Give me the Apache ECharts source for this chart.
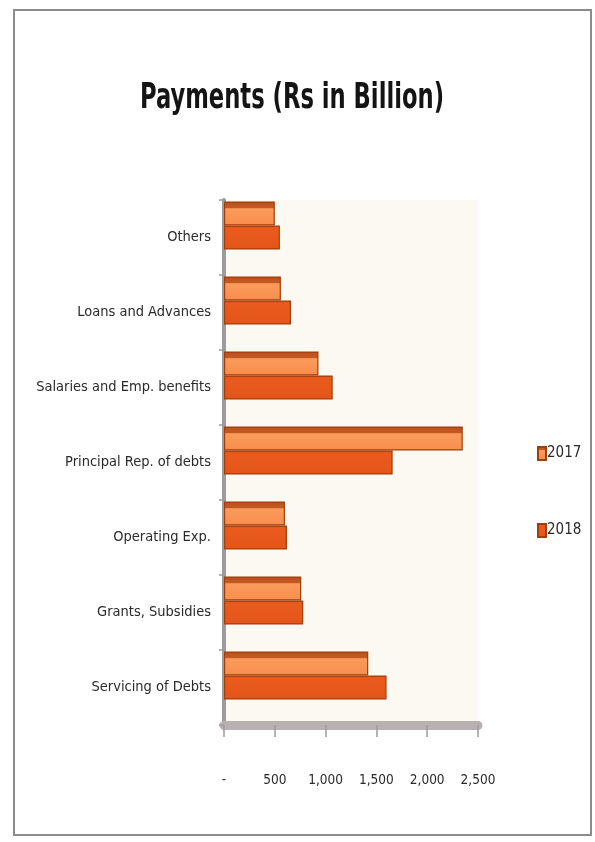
<!DOCTYPE html>
<html>
<head>
<meta charset="utf-8">
<title>Payments (Rs in Billion)</title>
<script src="https://cdn.jsdelivr.net/npm/echarts@6/dist/echarts.min.js"></script>
<style>
  html, body { margin: 0; padding: 0; background: #ffffff; }
  #chart { width: 595px; height: 842px; }
</style>
</head>
<body>
<div id="chart"></div>
<script>
// Payment heads, listed top to bottom
const categories = [
  'Others',
  'Loans and Advances',
  'Salaries and Emp. benefits',
  'Principal Rep. of debts',
  'Operating Exp.',
  'Grants, Subsidies',
  'Servicing of Debts'
];

// Rs in billion
const values2017 = [500, 560, 930, 2350, 600, 760, 1420];
const values2018 = [550, 660, 1070, 1660, 620, 780, 1600];

const seriesNames = ['2017', '2018'];
const titleText = 'Payments (Rs in Billion)';

const FONT = '"DejaVu Sans Condensed", "Liberation Sans Narrow", "Roboto", sans-serif';

const chart = echarts.init(document.getElementById('chart'), null, { renderer: 'canvas' });

// 2017 bars: dark top face over a light front face
const fill2017 = new echarts.graphic.LinearGradient(0, 0, 0, 1, [
  { offset: 0, color: '#b9501d' },
  { offset: 0.26, color: '#c45a22' },
  { offset: 0.3, color: '#fa9b5c' },
  { offset: 1, color: '#f88d4c' }
]);
const fill2018 = new echarts.graphic.LinearGradient(0, 0, 0, 1, [
  { offset: 0, color: '#cf4e16' },
  { offset: 0.1, color: '#e95b1d' },
  { offset: 1, color: '#e4551a' }
]);

chart.setOption({
  backgroundColor: '#ffffff',
  animation: false,
  legend: {
    orient: 'vertical',
    left: 532,
    top: 441,
    itemGap: 62,
    itemWidth: 8,
    itemHeight: 13,
    icon: 'rect',
    data: seriesNames,
    textStyle: { fontFamily: FONT, fontSize: 15, color: '#2a2a2a', padding: [0, 0, 0, -4] }
  },
  grid: {
    left: 224,
    right: 117,
    top: 200,
    bottom: 117,
    show: true,
    backgroundColor: '#fcf9f3',
    borderWidth: 0
  },
  xAxis: {
    type: 'value',
    min: 0,
    max: 2500,
    interval: 500,
    splitLine: { show: false },
    axisLine: { show: true, lineStyle: { color: '#b8b1b1', width: 9 } },
    axisTick: { show: true, length: 12, lineStyle: { color: '#9a9a9a', width: 1.5 } },
    axisLabel: {
      margin: 48,
      fontFamily: FONT,
      fontSize: 13.5,
      color: '#2a2a2a',
      formatter: function (v) {
        return v === 0 ? '-' : v.toLocaleString('en-US');
      }
    }
  },
  yAxis: {
    type: 'category',
    data: categories,
    inverse: true,
    axisLine: { show: true, lineStyle: { color: '#9c9c9c', width: 4 } },
    axisTick: { show: true, length: 5, lineStyle: { color: '#9c9c9c', width: 1.5 } },
    axisLabel: {
      margin: 13,
      fontFamily: FONT,
      fontSize: 14.5,
      color: '#2a2a2a',
      padding: [10, 0, 0, 0]
    }
  },
  series: [
    {
      name: seriesNames[0],
      type: 'bar',
      data: values2017,
      barGap: '0%',
      barCategoryGap: '4%',
      itemStyle: { color: fill2017, borderColor: '#a03e0c', borderWidth: 1.2 }
    },
    {
      name: seriesNames[1],
      type: 'bar',
      data: values2018,
      itemStyle: { color: fill2018, borderColor: '#a03e0c', borderWidth: 1.2 }
    },
    {
      // empty slot under each pair, keeps the bars toward the top of the band
      name: 'spacer',
      type: 'bar',
      data: categories.map(function () { return null; }),
      silent: true
    }
  ],
  graphic: [
    {
      type: 'rect',
      shape: { x: 14, y: 10, width: 577, height: 825 },
      style: { fill: 'none', stroke: '#8c8c8c', lineWidth: 2 },
      silent: true
    },
    {
      // condensed heading
      type: 'text',
      x: 292,
      y: 99,
      scaleX: 0.72,
      style: {
        text: titleText,
        fill: '#141414',
        font: 'bold 35px ' + FONT,
        textAlign: 'center',
        textVerticalAlign: 'middle'
      },
      silent: true
    }
  ]
});
</script>
</body>
</html>
